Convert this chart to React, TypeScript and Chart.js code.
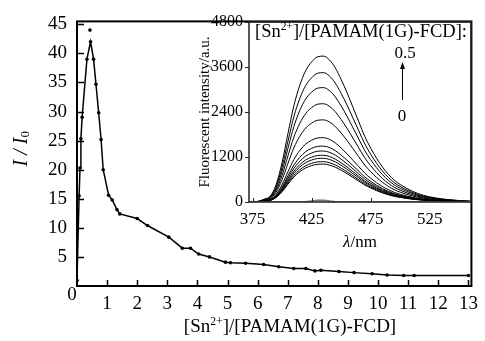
import React, { useEffect, useRef } from 'react';
import { Chart, registerables } from 'chart.js';
Chart.register(...registerables);

const SERIF = "'Liberation Serif', 'Times New Roman', serif";

// ---- main plot data: I/I0 vs [Sn2+]/[PAMAM(1G)-FCD]
const RATIO = [0, 0.07, 0.1, 0.13, 0.17, 0.33, 0.45, 0.55, 0.63, 0.72, 0.8, 0.87, 1.05, 1.17, 1.33, 1.42, 2.0, 2.34, 3.05, 3.5, 3.77, 4.04, 4.4, 4.93, 5.1, 5.6, 6.2, 6.7, 7.2, 7.6, 7.9, 8.1, 8.7, 9.2, 9.8, 10.3, 10.85, 11.2, 13.0];
const I_RATIO = [1.0, 15.5, 20.3, 25.3, 29, 39, 42, 39, 34.7, 29.8, 25.2, 20, 15.6, 14.8, 13.1, 12.4, 11.6, 10.4, 8.4, 6.5, 6.5, 5.5, 5.0, 4.1, 4.0, 3.9, 3.7, 3.3, 3.0, 3.0, 2.6, 2.7, 2.5, 2.3, 2.1, 1.9, 1.8, 1.8, 1.8];
const OUTLIER_X = [0.43];
const OUTLIER_Y = [44];
const X_TICKS = [1, 2, 3, 4, 5, 6, 7, 8, 9, 10, 11, 12, 13];
const Y_TICKS = [5, 10, 15, 20, 25, 30, 35, 40, 45];

// ---- inset: fluorescence spectra
const WAVELENGTH = [372, 380, 385, 390, 395, 400, 405, 410, 415, 420, 425, 430, 435, 440, 445, 450, 455, 460, 465, 470, 475, 480, 485, 490, 495, 500, 510, 520, 530, 540, 550, 560];
const SHAPE = [0, 0.005, 0.02, 0.04, 0.12, 0.27, 0.47, 0.66, 0.80, 0.90, 0.96, 0.995, 1.0, 0.975, 0.92, 0.84, 0.75, 0.65, 0.55, 0.45, 0.37, 0.30, 0.24, 0.19, 0.15, 0.12, 0.075, 0.045, 0.028, 0.017, 0.01, 0.005];
const PEAK_INTENSITY = [1010, 1075, 1165, 1245, 1360, 1490, 1715, 2190, 2620, 3050, 3450, 3890];
const BLANK = [0, 0, 0, 0, 0, 0, 0, 0, 0, 5, 30, 45, 45, 30, 5, 0, 0, 0, 0, 0, 0, 0, 0, 0, 0, 0, 0, 0, 0, 0, 0, 0];
const INSET_X_TICKS = [375, 425, 475, 525];
const INSET_Y_TICKS = [0, 1200, 2400, 3600, 4800];

const INSET_LEFT = 190;

type Part = { t: string; sup?: boolean; it?: boolean };

function drawRich(ctx: CanvasRenderingContext2D, parts: Part[], x: number, y: number, size: number, align: 'left' | 'center') {
  const fontOf = (p: Part) => `${p.it ? 'italic ' : ''}${p.sup ? size * 0.62 : size}px ${SERIF}`;
  let w = 0;
  for (const p of parts) { ctx.font = fontOf(p); w += ctx.measureText(p.t).width; }
  let cx = align === 'center' ? x - w / 2 : x;
  ctx.textAlign = 'left';
  for (const p of parts) {
    ctx.font = fontOf(p);
    ctx.fillText(p.t, cx, p.sup ? y - size * 0.38 : y);
    cx += ctx.measureText(p.t).width;
  }
}

const SN_TITLE: Part[] = [{ t: '[Sn' }, { t: '2+', sup: true }, { t: ']/[PAMAM(1G)-FCD]' }];

const mainFrame = {
  id: 'mainFrame',
  afterDraw(chart: any) {
    const { ctx, chartArea: a, scales } = chart;
    ctx.save();
    ctx.strokeStyle = '#000';
    ctx.lineWidth = 2;
    ctx.strokeRect(a.left, a.top, a.right - a.left, a.bottom - a.top);
    ctx.lineWidth = 1.5;
    ctx.beginPath();
    for (const v of X_TICKS) {
      const px = Math.round(scales.x.getPixelForValue(v)) + 0.5;
      ctx.moveTo(px, a.bottom);
      ctx.lineTo(px, a.bottom - 6);
    }
    for (const v of Y_TICKS) {
      const py = Math.round(scales.y.getPixelForValue(v)) + 0.5;
      ctx.moveTo(a.left, py);
      ctx.lineTo(a.left + 7, py);
    }
    ctx.stroke();
    ctx.fillStyle = '#000';
    ctx.font = `19px ${SERIF}`;
    ctx.textAlign = 'center';
    ctx.textBaseline = 'middle';
    ctx.fillText('0', 72, 295);
    ctx.textBaseline = 'alphabetic';
    drawRich(ctx, SN_TITLE, 290, 332, 19, 'center');
    ctx.restore();

    // y-axis title: I / I0 (italic, subscript 0)
    ctx.save();
    ctx.translate(22, 148);
    ctx.rotate(-Math.PI / 2);
    ctx.fillStyle = '#000';
    ctx.textBaseline = 'middle';
    ctx.font = `italic 20px ${SERIF}`;
    const w = ctx.measureText('I / I').width;
    ctx.textAlign = 'left';
    ctx.fillText('I / I', -w / 2 - 4, 0);
    ctx.font = `13px ${SERIF}`;
    ctx.fillText('0', w / 2 - 4, 4);
    ctx.restore();
  },
};

const insetFrame = {
  id: 'insetFrame',
  afterDraw(chart: any) {
    const { ctx, chartArea: a, scales } = chart;
    ctx.save();
    ctx.strokeStyle = '#222';
    ctx.lineWidth = 1.5;
    ctx.strokeRect(a.left, a.top, a.right - a.left, a.bottom - a.top);
    ctx.lineWidth = 1;
    ctx.beginPath();
    for (const v of INSET_X_TICKS) {
      const px = Math.round(scales.x.getPixelForValue(v)) + 0.5;
      ctx.moveTo(px, a.bottom);
      ctx.lineTo(px, a.bottom - 4);
    }
    ctx.stroke();
    // absolute page coordinates from here on
    ctx.translate(-INSET_LEFT, 0);
    ctx.fillStyle = '#000';
    ctx.textBaseline = 'alphabetic';
    drawRich(ctx, [{ t: '[Sn' }, { t: '2+', sup: true }, { t: ']/[PAMAM(1G)-FCD]:' }], 255, 37, 18.5, 'left');
    ctx.textAlign = 'center';
    ctx.textBaseline = 'middle';
    ctx.font = `17px ${SERIF}`;
    ctx.fillText('0.5', 405, 54);
    ctx.fillText('0', 402, 117);
    ctx.strokeStyle = '#000';
    ctx.lineWidth = 1;
    ctx.beginPath();
    ctx.moveTo(402.5, 100);
    ctx.lineTo(402.5, 66);
    ctx.stroke();
    ctx.beginPath();
    ctx.moveTo(402.5, 62);
    ctx.lineTo(400, 69);
    ctx.lineTo(405, 69);
    ctx.closePath();
    ctx.fill();
    ctx.textBaseline = 'middle';
    drawRich(ctx, [{ t: 'λ', it: true }, { t: '/nm' }], 360, 243, 17, 'center');
    ctx.restore();
  },
};

export default function App() {
  const mainRef = useRef<HTMLCanvasElement>(null);
  const insetRef = useRef<HTMLCanvasElement>(null);

  useEffect(() => {
    const tickFont = { family: SERIF, size: 19 };
    const main = new Chart(mainRef.current!, {
      type: 'scatter',
      data: {
        datasets: [
          {
            data: RATIO.map((x, i) => ({ x, y: I_RATIO[i] })),
            showLine: true,
            borderColor: '#000',
            backgroundColor: '#000',
            borderWidth: 1.5,
            pointRadius: 1.8,
            pointBorderWidth: 0,
            tension: 0,
          },
          {
            data: OUTLIER_X.map((x, i) => ({ x, y: OUTLIER_Y[i] })),
            showLine: false,
            backgroundColor: '#000',
            pointRadius: 1.8,
            pointBorderWidth: 0,
          },
        ],
      },
      options: {
        animation: false,
        responsive: false,
        devicePixelRatio: 1,
        layout: { padding: { top: 16, right: 12, left: 0, bottom: 0 } },
        plugins: { legend: { display: false }, tooltip: { enabled: false } },
        scales: {
          x: {
            type: 'linear',
            min: 0,
            max: 13.1,
            afterBuildTicks: (axis: any) => { axis.ticks = X_TICKS.map((v) => ({ value: v })); },
            afterFit: (s: any) => { s.height = 55; },
            grid: { display: false, drawTicks: false },
            border: { display: false },
            ticks: { font: tickFont, color: '#000', padding: 7, maxRotation: 0, autoSkip: false },
          },
          y: {
            type: 'linear',
            min: 0,
            max: 45.5,
            afterBuildTicks: (axis: any) => { axis.ticks = Y_TICKS.map((v) => ({ value: v })); },
            afterFit: (s: any) => { s.width = 77; },
            grid: { display: false, drawTicks: false },
            border: { display: false },
            ticks: { font: tickFont, color: '#000', padding: 10, autoSkip: false },
          },
        },
      },
      plugins: [mainFrame],
    } as any);

    const insetFont = { family: SERIF, size: 17 };
    const curves = PEAK_INTENSITY.map((p) => ({
      data: WAVELENGTH.map((x, i) => ({ x, y: SHAPE[i] * p })),
      showLine: true,
      borderColor: '#000',
      borderWidth: 1,
      pointRadius: 0,
      cubicInterpolationMode: 'monotone',
    }));
    const inset = new Chart(insetRef.current!, {
      type: 'scatter',
      data: {
        datasets: [
          {
            data: WAVELENGTH.map((x, i) => ({ x, y: BLANK[i] })),
            showLine: true,
            borderColor: '#777',
            borderWidth: 1.5,
            pointRadius: 0,
            cubicInterpolationMode: 'monotone',
          },
          ...curves,
        ],
      },
      options: {
        animation: false,
        responsive: false,
        devicePixelRatio: 1,
        layout: { padding: { top: 22, right: 9, left: 0, bottom: 0 } },
        plugins: { legend: { display: false }, tooltip: { enabled: false } },
        scales: {
          x: {
            type: 'linear',
            min: 372,
            max: 560,
            afterBuildTicks: (axis: any) => { axis.ticks = INSET_X_TICKS.map((v) => ({ value: v })); },
            afterFit: (s: any) => { s.height = 58; },
            grid: { display: false, drawTicks: false },
            border: { display: false },
            ticks: { font: insetFont, color: '#000', padding: 7, maxRotation: 0, autoSkip: false },
          },
          y: {
            type: 'linear',
            min: 0,
            max: 4800,
            afterBuildTicks: (axis: any) => { axis.ticks = INSET_Y_TICKS.map((v) => ({ value: v })); },
            afterFit: (s: any) => { s.width = 59; },
            grid: { display: true, drawOnChartArea: false, drawTicks: true, tickLength: 4, color: '#222' },
            border: { display: false },
            ticks: {
              font: { family: SERIF, size: 16 },
              color: '#000',
              padding: 2,
              autoSkip: false,
              callback: (v: any) => String(v),
            },
            title: {
              display: true,
              text: 'Fluorescent intensity/a.u.',
              color: '#000',
              font: { family: SERIF, size: 15 },
              padding: { top: 6, bottom: 0 },
            },
          },
        },
      },
      plugins: [insetFrame],
    } as any);

    return () => {
      main.destroy();
      inset.destroy();
    };
  }, []);

  return (
    <div style={{ position: 'fixed', left: 0, top: 0, width: 485, height: 341, background: '#fff' }}>
      <canvas ref={mainRef} width={485} height={341} style={{ position: 'absolute', left: 0, top: 0, width: 485, height: 341 }} />
      <canvas ref={insetRef} width={290} height={260} style={{ position: 'absolute', left: INSET_LEFT, top: 0, width: 290, height: 260 }} />
    </div>
  );
}
